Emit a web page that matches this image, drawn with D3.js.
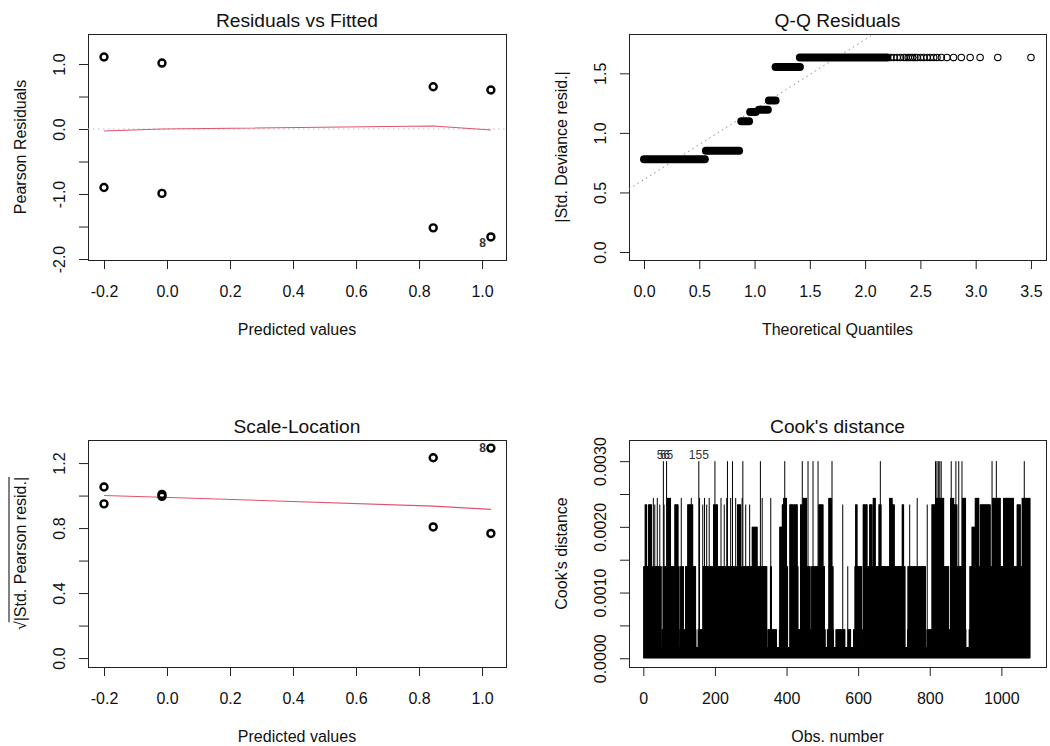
<!DOCTYPE html>
<html>
<head>
<meta charset="utf-8">
<script src="https://cdn.jsdelivr.net/npm/d3@7"></script>
<style>
  body { margin: 0; background: #fff; }
  svg text { font-family: "Liberation Sans", Arial, Helvetica, sans-serif; fill: #111; }
</style>
</head>
<body>
<div id="chart"></div>
<script>
// ---- Residuals vs Fitted / Scale-Location (8 distinct points) ----
const fittedVals = [-0.2, -0.2, -0.016, -0.016, 0.845, 0.845, 1.028, 1.028];
const pearsonResid = [1.108, -0.90, 1.015, -0.99, 0.65, -1.52, 0.60, -1.66];
const sqrtStdResid = [1.053, 0.949, 1.007, 0.995, 0.807, 1.233, 0.767, 1.292];
const smoothX = [-0.2, -0.016, 0.845, 1.028];
const rvfSmoothY = [-0.03, 0.0, 0.046, -0.015];
const slSmoothY = [1.0, 0.99, 0.935, 0.915];
const rvfLabelIdx = 7, slLabelIdx = 7, pointLabel = "8";

// ---- Q-Q residuals: runs of overlapping points + sparse tail ----
const qqRunX0 = [0.0, 0.56, 0.88, 0.96, 1.04, 1.13, 1.19, 1.41];
const qqRunX1 = [0.55, 0.86, 0.95, 1.01, 1.12, 1.19, 1.41, 2.20];
const qqRunY = [0.778, 0.85, 1.097, 1.175, 1.195, 1.272, 1.552, 1.633];
const qqTailX = [2.23, 2.26, 2.29, 2.32, 2.35, 2.37, 2.39, 2.41, 2.43, 2.45, 2.47,
  2.50, 2.53, 2.56, 2.59, 2.62, 2.65, 2.69, 2.74, 2.80, 2.87, 2.95, 3.04, 3.20, 3.50];
const qqTailLevel = 1.633;
const qqLineIntercept = 0.608, qqLineSlope = 0.588;

// ---- Cook's distance (1080 obs, discrete levels stored as runs) ----
const nObs = 1080;
const cookBase = 0.00017;
const runs044 = [[1,45],[52,96],[102,147],[153,335],[348,372],[380,401],[410,446],[457,508],
  [514,531],[538,563],[571,579],[587,605],[612,680],[687,703],[710,731],[738,754],[761,782],
  [792,838],[849,901],[910,978],[984,1038],[1049,1080]];
const runs14 = [[1,50],[55,100],[104,112],[118,146],[167,345],[355,358],[387,403],[415,432],
  [443,466],[470,506],[521,530],[571,571],[591,610],[619,689],[693,731],[739,788],[806,853],
  [858,900],[912,1080]];
const runs20 = [[304,318],[381,388],[425,430],[918,927],[1070,1080]];
const runs234 = [[5,9],[14,23],[32,32],[46,46],[58,58],[88,97],[124,138],[166,166],[177,177],
  [196,207],[226,226],[263,272],[286,286],[297,297],[388,397],[409,418],[420,430],[439,446],
  [490,502],[557,557],[593,597],[614,625],[632,639],[658,664],[695,701],[723,727],[744,744],
  [793,793],[806,816],[867,876],[941,969],[1044,1053]];
const runs244 = [[28,28],[39,39],[67,76],[106,106],[134,134],[157,157],[171,171],[184,184],
  [217,217],[233,233],[244,244],[258,258],[276,276],[332,332],[356,356],[392,400],[446,456],
  [518,527],[642,648],[688,695],[765,765],[816,839],[858,867],[890,900],[927,937],[974,997],
  [1006,1034],[1058,1080]];
const spikes30 = [56, 65, 155, 200, 235, 249, 278, 327, 395, 444, 460, 474, 488, 527, 662,
  816, 820, 824, 828, 832, 860, 873, 881, 890, 974, 986, 1064];
const cookLabelled = [56, 65, 155];

// ---- axes ----
const rvfTicksX = [-0.2, 0, 0.2, 0.4, 0.6, 0.8, 1.0];
const rvfTicksY = [-2, -1.5, -1, -0.5, 0, 0.5, 1];
const rvfLabelsY = [-2, -1, 0, 1];
const qqTicksX = [0, 0.5, 1, 1.5, 2, 2.5, 3, 3.5];
const qqTicksY = [0, 0.5, 1, 1.5];
const slTicksY = [0, 0.2, 0.4, 0.6, 0.8, 1.0, 1.2];
const slLabelsY = [0, 0.4, 0.8, 1.2];
const cookTicksX = [0, 200, 400, 600, 800, 1000];
const cookTicksY = [0, 0.0005, 0.001, 0.0015, 0.002, 0.0025, 0.003];
const cookLabelsY = [0, 0.001, 0.002, 0.003];

const RED = "#DF536B";
const svg = d3.select("#chart").append("svg").attr("width", 1050).attr("height", 746);

function panel(cfg) {
  const b = cfg.box;
  const g = svg.append("g");
  const x = d3.scaleLinear().domain(cfg.xDomain).range([b.left, b.right]);
  const y = d3.scaleLinear().domain(cfg.yDomain).range([b.bottom, b.top]);

  const xAxis = g.append("g").attr("transform", `translate(0,${b.bottom})`)
    .call(d3.axisBottom(x).tickValues(cfg.xTicks).tickSize(9).tickSizeOuter(0)
      .tickFormat(d => (cfg.xLabels ? cfg.xLabels.includes(d) : true) ? cfg.xFmt(d) : ""));
  const yAxis = g.append("g").attr("transform", `translate(${b.left},0)`)
    .call(d3.axisLeft(y).tickValues(cfg.yTicks).tickSize(9).tickSizeOuter(0)
      .tickFormat(d => (cfg.yLabels ? cfg.yLabels.includes(d) : true) ? cfg.yFmt(d) : ""));
  [xAxis, yAxis].forEach(a => {
    a.select(".domain").remove();
    a.selectAll(".tick line").attr("stroke", "#222");
  });
  xAxis.selectAll("text").attr("y", 37).attr("dy", 0).style("font-size", "16px");
  yAxis.selectAll("text").attr("x", 0).attr("dy", 0).attr("text-anchor", "middle")
    .attr("transform", "translate(-23,0) rotate(-90)").style("font-size", "16px");

  g.append("rect").attr("x", b.left + 0.5).attr("y", b.top + 0.5)
    .attr("width", b.right - b.left).attr("height", b.bottom - b.top)
    .attr("fill", "none").attr("stroke", "#222");

  g.append("text").attr("x", (b.left + b.right) / 2).attr("y", b.top - 7)
    .attr("text-anchor", "middle").style("font-size", "19.2px").text(cfg.title);
  g.append("text").attr("x", (b.left + b.right) / 2).attr("y", b.bottom + 75)
    .attr("text-anchor", "middle").style("font-size", "16px").text(cfg.xTitle);
  const yt = g.append("text")
    .attr("transform", `translate(${b.left - 62},${(b.top + b.bottom) / 2}) rotate(-90)`)
    .attr("text-anchor", "middle").style("font-size", "16px").text(cfg.yTitle);

  const clipId = "clip-" + cfg.id;
  g.append("clipPath").attr("id", clipId).append("rect")
    .attr("x", b.left).attr("y", b.top).attr("width", b.right - b.left).attr("height", b.bottom - b.top);
  const plot = g.append("g").attr("clip-path", `url(#${clipId})`);
  return { g, plot, x, y, yt };
}

const fmt1 = d => d.toFixed(1);

// ---------- Residuals vs Fitted ----------
{
  const p = panel({
    id: "rvf", box: { left: 88, right: 506, top: 34, bottom: 260 },
    xDomain: [-0.2508, 1.076], yDomain: [-2.015, 1.462],
    xTicks: rvfTicksX, yTicks: rvfTicksY, yLabels: rvfLabelsY, xFmt: fmt1, yFmt: fmt1,
    title: "Residuals vs Fitted", xTitle: "Predicted values", yTitle: "Pearson Residuals"
  });
  p.plot.append("line").attr("x1", p.x.range()[0]).attr("x2", p.x.range()[1])
    .attr("y1", p.y(0)).attr("y2", p.y(0))
    .attr("stroke", "#BEBEBE").attr("stroke-dasharray", "1.5,3.5");
  p.plot.append("path").datum(smoothX.map((v, i) => [v, rvfSmoothY[i]]))
    .attr("d", d3.line().x(d => p.x(d[0])).y(d => p.y(d[1])))
    .attr("fill", "none").attr("stroke", RED).attr("stroke-width", 1.1);
  p.g.selectAll(".pt").data(fittedVals).join("circle").attr("class", "pt")
    .attr("cx", d => p.x(d)).attr("cy", (d, i) => p.y(pearsonResid[i]))
    .attr("r", 3.5).attr("fill", "none").attr("stroke", "#000").attr("stroke-width", 2.4);
  p.g.append("text").attr("x", p.x(fittedVals[rvfLabelIdx]) - 5)
    .attr("y", p.y(pearsonResid[rvfLabelIdx]) + 10).attr("text-anchor", "end")
    .style("font-size", "12px").style("font-weight", "bold").style("fill", "#333").text(pointLabel);
}

// ---------- Q-Q Residuals ----------
{
  const p = panel({
    id: "qq", box: { left: 629, right: 1046, top: 34, bottom: 260 },
    xDomain: [-0.1357, 3.636], yDomain: [-0.067, 1.830],
    xTicks: qqTicksX, yTicks: qqTicksY, xFmt: fmt1, yFmt: fmt1,
    title: "Q-Q Residuals", xTitle: "Theoretical Quantiles", yTitle: "|Std. Deviance resid.|"
  });
  const xd = p.x.domain();
  p.plot.append("line")
    .attr("x1", p.x(xd[0])).attr("y1", p.y(qqLineIntercept + qqLineSlope * xd[0]))
    .attr("x2", p.x(xd[1])).attr("y2", p.y(qqLineIntercept + qqLineSlope * xd[1]))
    .attr("stroke", "#8a8a8a").attr("stroke-dasharray", "1.5,3.5");
  p.g.selectAll(".run").data(qqRunY).join("line").attr("class", "run")
    .attr("x1", (d, i) => p.x(qqRunX0[i])).attr("x2", (d, i) => p.x(qqRunX1[i]))
    .attr("y1", d => p.y(d)).attr("y2", d => p.y(d))
    .attr("stroke", "#000").attr("stroke-width", 8).attr("stroke-linecap", "round");
  p.g.selectAll(".tail").data(qqTailX).join("circle").attr("class", "tail")
    .attr("cx", d => p.x(d)).attr("cy", p.y(qqTailLevel))
    .attr("r", 3.2).attr("fill", "none").attr("stroke", "#000").attr("stroke-width", 1.1);
}

// ---------- Scale-Location ----------
{
  const p = panel({
    id: "sl", box: { left: 88, right: 506, top: 440, bottom: 667 },
    xDomain: [-0.2508, 1.076], yDomain: [-0.055, 1.342],
    xTicks: rvfTicksX, yTicks: slTicksY, yLabels: slLabelsY, xFmt: fmt1, yFmt: fmt1,
    title: "Scale-Location", xTitle: "Predicted values", yTitle: "\u221A|Std. Pearson resid.|"
  });
  // overbar of the square root
  const node = p.yt.node();
  const total = node.getComputedTextLength();
  const rootW = node.getSubStringLength(0, 1);
  p.g.append("line")
    .attr("transform", `translate(${88 - 62},${(440 + 667) / 2}) rotate(-90)`)
    .attr("x1", -total / 2 + rootW - 1).attr("x2", total / 2)
    .attr("y1", -17).attr("y2", -17).attr("stroke", "#000").attr("stroke-width", 1);
  p.plot.append("path").datum(smoothX.map((v, i) => [v, slSmoothY[i]]))
    .attr("d", d3.line().x(d => p.x(d[0])).y(d => p.y(d[1])))
    .attr("fill", "none").attr("stroke", RED).attr("stroke-width", 1.1);
  p.g.selectAll(".pt").data(fittedVals).join("circle").attr("class", "pt")
    .attr("cx", d => p.x(d)).attr("cy", (d, i) => p.y(sqrtStdResid[i]))
    .attr("r", 3.5).attr("fill", "none").attr("stroke", "#000").attr("stroke-width", 2.4);
  p.g.append("text").attr("x", p.x(fittedVals[slLabelIdx]) - 5)
    .attr("y", p.y(sqrtStdResid[slLabelIdx]) + 4).attr("text-anchor", "end")
    .style("font-size", "12px").style("font-weight", "bold").style("fill", "#333").text(pointLabel);
}

// ---------- Cook's distance ----------
{
  const p = panel({
    id: "cook", box: { left: 629, right: 1046, top: 440, bottom: 667 },
    xDomain: [-40, 1124.7], yDomain: [-0.000133, 0.003322],
    xTicks: cookTicksX, yTicks: cookTicksY, yLabels: cookLabelsY,
    xFmt: d => String(d), yFmt: d => d.toFixed(4),
    title: "Cook's distance", xTitle: "Obs. number", yTitle: "Cook's distance"
  });
  const inRuns = (runs, i) => runs.some(r => i >= r[0] && i <= r[1]);
  const cook = d3.range(1, nObs + 1).map(i => {
    let v = cookBase;
    if (inRuns(runs044, i)) v = 0.00044;
    if (inRuns(runs14, i)) v = 0.0014;
    if (inRuns(runs20, i)) v = 0.0020;
    if (inRuns(runs234, i)) v = 0.00234;
    if (inRuns(runs244, i)) v = 0.00244;
    if (spikes30.includes(i)) v = 0.0030;
    return { obs: i, val: v };
  });
  p.g.selectAll(".bar").data(cook).join("line").attr("class", "bar")
    .attr("x1", d => p.x(d.obs)).attr("x2", d => p.x(d.obs))
    .attr("y1", p.y(0)).attr("y2", d => p.y(d.val))
    .attr("stroke", "#000").attr("stroke-width", 1);
  // labels of the largest distances (56 and 65 sit almost on top of each other, as in R)
  p.g.selectAll(".lab").data(cookLabelled).join("text").attr("class", "lab")
    .attr("x", d => p.x(d)).attr("y", d => p.y(cook[d - 1].val) - 2)
    .attr("text-anchor", "middle").style("font-size", "12px").style("fill", "#333")
    .text(d => d);
}
</script>
</body>
</html>
